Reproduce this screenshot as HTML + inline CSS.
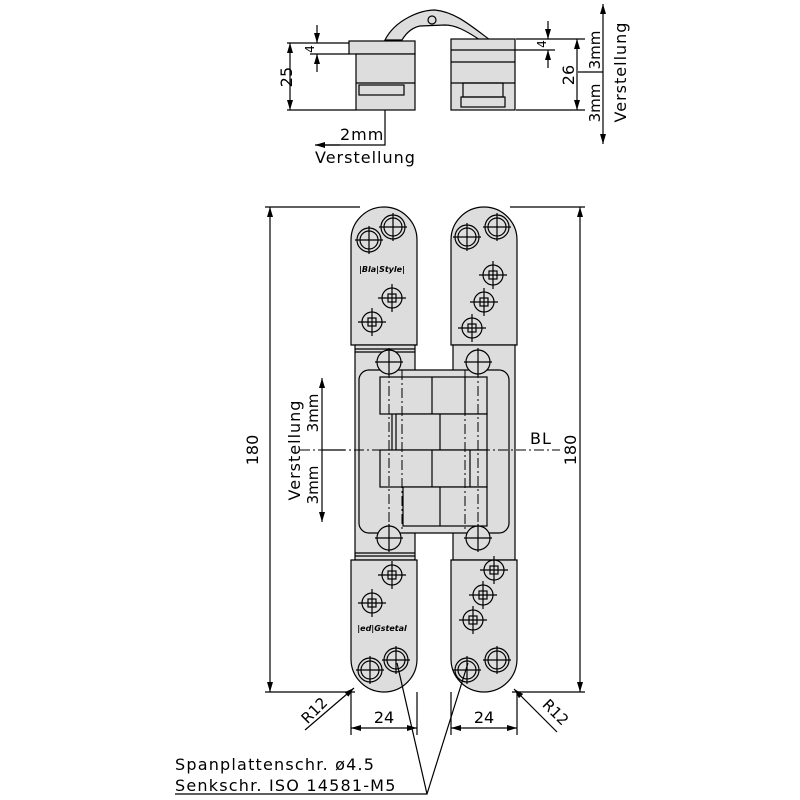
<!DOCTYPE html>
<html><head><meta charset="utf-8"><style>html,body{margin:0;padding:0;background:#fff}svg{display:block}text{font-family:"DejaVu Sans","Liberation Sans",sans-serif;fill:#000}</style></head><body>
<svg width="800" height="800" viewBox="0 0 800 800" xmlns="http://www.w3.org/2000/svg">
<defs>
<marker id="a" viewBox="0 0 10 6" refX="10" refY="3" markerWidth="10" markerHeight="6" orient="auto-start-reverse" markerUnits="userSpaceOnUse"><path d="M0,0L10,3L0,6z" fill="#000"/></marker>
<g id="s1" fill="none" stroke="#000" stroke-width="1.2"><circle r="12" fill="#ddd"/><circle r="9"/><path d="M-14,0H14M0,-14V14"/></g>
<g id="s2" fill="none" stroke="#000" stroke-width="1.2"><circle r="10"/><rect x="-4" y="-4" width="8" height="8"/><path d="M-14,0H14M0,-14V14"/></g>
<g id="h" fill="none" stroke="#000" stroke-width="1.2"><circle r="12" fill="#ddd"/><path d="M-14,0H14M0,-14V14"/></g>
</defs>
<g stroke="#000" stroke-width="1.2" fill="none">
<!-- TOP VIEW -->
<path d="M385,40 C395,20 420,10 435,10 C455,12 470,25 490,40 L480,40 C465,30 455,25 445,25 L420,26 C410,28 405,35 402,40 Z" fill="#ddd"/>
<circle cx="432" cy="20" r="4"/>
<rect x="349" y="41" width="66" height="13" fill="#ddd"/>
<rect x="356" y="54" width="59" height="56" fill="#ddd"/>
<line x1="356" y1="83" x2="415" y2="83"/>
<rect x="359" y="85" width="45" height="10"/>
<rect x="451" y="39" width="64" height="71" fill="#ddd"/>
<line x1="451" y1="50" x2="515" y2="50"/><line x1="451" y1="62" x2="515" y2="62"/>
<line x1="451" y1="83" x2="515" y2="83"/>
<rect x="463" y="83" width="40" height="14"/><rect x="461" y="97" width="44" height="10"/>
<path d="M287,43H349M287,110H356M516,39H585M516,110H585"/>
<line x1="290" y1="43" x2="290" y2="110" marker-start="url(#a)" marker-end="url(#a)"/>
<line x1="317" y1="25" x2="317" y2="43" marker-end="url(#a)"/><line x1="317" y1="72" x2="317" y2="54" marker-end="url(#a)"/>
<line x1="310" y1="54" x2="349" y2="54"/>
<line x1="548" y1="21" x2="548" y2="39" marker-end="url(#a)"/><line x1="548" y1="68" x2="548" y2="50" marker-end="url(#a)"/>
<line x1="515" y1="50" x2="555" y2="50"/>
<line x1="577" y1="39" x2="577" y2="110" marker-start="url(#a)" marker-end="url(#a)"/>
<line x1="603" y1="4" x2="603" y2="144" marker-start="url(#a)" marker-end="url(#a)"/>
<line x1="578" y1="72" x2="603" y2="72"/>
<path d="M385,110V145H316" /><line x1="340" y1="145" x2="315" y2="145" marker-end="url(#a)"/>
</g>
<text x="292" y="77" font-size="16" transform="rotate(-90 292 77)" text-anchor="middle">25</text>
<text x="314" y="49" font-size="12" transform="rotate(-90 314 49)" text-anchor="middle">4</text>
<text x="546" y="44" font-size="12" transform="rotate(-90 546 44)" text-anchor="middle">4</text>
<text x="574" y="75" font-size="16" transform="rotate(-90 574 75)" text-anchor="middle">26</text>
<text x="600" y="50" font-size="15" transform="rotate(-90 600 50)" text-anchor="middle">3mm</text>
<text x="600" y="103" font-size="15" transform="rotate(-90 600 103)" text-anchor="middle">3mm</text>
<text x="626" y="72" font-size="16" transform="rotate(-90 626 72)" text-anchor="middle" letter-spacing="1">Verstellung</text>
<text x="340" y="140" font-size="16" letter-spacing="1">2mm</text>
<text x="315" y="163" font-size="16" letter-spacing="1">Verstellung</text>

<!-- FRONT VIEW -->
<g stroke="#000" stroke-width="1.2">
<path d="M351,345V240A33,33 0 0 1 417,240V345Z" fill="#ddd"/>
<path d="M451,345V240A33,33 0 0 1 517,240V345Z" fill="#ddd"/>
<rect x="355" y="345" width="60" height="215" fill="#ddd"/>
<rect x="453" y="345" width="62" height="215" fill="#ddd"/>
<path d="M355,349H415M355,352H415M355,553H415M355,556H415" fill="none"/>
<rect x="359" y="370" width="150" height="163" rx="10" fill="#ddd"/>
<path d="M351,560V659A33,33 0 0 0 417,659V560Z" fill="#ddd"/>
<path d="M451,560V659A33,33 0 0 0 517,659V560Z" fill="#ddd"/>
<g fill="#ddd">
<rect x="380" y="377" width="107" height="37"/>
<rect x="396" y="414" width="91" height="36"/>
<rect x="380" y="450" width="107" height="37"/>
<rect x="403" y="487" width="84" height="39"/>
</g>
<path d="M432,377V414M440,414V450M432,450V487M440,487V526M392,414V450M465,377V414M470,450V487" fill="none"/>
</g>
<g stroke="#000" stroke-width="1" stroke-dasharray="10,3,2,3" fill="none">
<path d="M300,450H560M389,350V550M478,350V550M402,370V530M465,370V530"/>
</g>
<g>
<use href="#s1" x="369" y="240"/><use href="#s1" x="393" y="227"/>
<use href="#s2" x="392" y="298"/><use href="#s2" x="372" y="322"/>
<use href="#s1" x="467" y="237"/><use href="#s1" x="497" y="227"/>
<use href="#s2" x="493" y="275"/><use href="#s2" x="484" y="302"/><use href="#s2" x="472" y="328"/>
<use href="#h" x="389" y="362"/><use href="#h" x="478" y="362"/>
<use href="#h" x="389" y="538"/><use href="#h" x="478" y="538"/>
<use href="#s2" x="392" y="575"/><use href="#s2" x="372" y="603"/>
<use href="#s1" x="370" y="670"/><use href="#s1" x="396" y="660"/>
<use href="#s2" x="494" y="570"/><use href="#s2" x="483" y="595"/><use href="#s2" x="473" y="620"/>
<use href="#s1" x="467" y="670"/><use href="#s1" x="497" y="660"/>
</g>
<text x="382" y="272" font-size="8" font-weight="bold" font-style="italic" text-anchor="middle">|Bla|Style|</text>
<text x="382" y="631" font-size="8" font-weight="bold" font-style="italic" text-anchor="middle">|ed|Gstetal</text>

<g stroke="#000" stroke-width="1.2" fill="none">
<path d="M265,207H360M265,692H355M510,207H585M512,692H585"/>
<line x1="270" y1="207" x2="270" y2="692" marker-start="url(#a)" marker-end="url(#a)"/>
<line x1="580" y1="207" x2="580" y2="692" marker-start="url(#a)" marker-end="url(#a)"/>
<line x1="322" y1="378" x2="322" y2="522" marker-start="url(#a)" marker-end="url(#a)"/>
<line x1="322" y1="450" x2="345" y2="450"/>
<path d="M351,692V735M417,692V735M451,692V735M517,692V735"/>
<line x1="351" y1="728" x2="417" y2="728" marker-start="url(#a)" marker-end="url(#a)"/>
<line x1="451" y1="728" x2="517" y2="728" marker-start="url(#a)" marker-end="url(#a)"/>
<line x1="305" y1="730" x2="354" y2="688" marker-end="url(#a)"/>
<line x1="557" y1="732" x2="514" y2="689" marker-end="url(#a)"/>
<path d="M175,794H427L397,663M427,794L468,663"/>
</g>
<text x="258" y="450" font-size="16" transform="rotate(-90 258 450)" text-anchor="middle">180</text>
<text x="576" y="450" font-size="16" transform="rotate(-90 576 450)" text-anchor="middle">180</text>
<text x="530" y="444" font-size="16" letter-spacing="1">BL</text>
<text x="300" y="450" font-size="16" transform="rotate(-90 300 450)" text-anchor="middle" letter-spacing="1">Verstellung</text>
<text x="318" y="413" font-size="15" transform="rotate(-90 318 413)" text-anchor="middle">3mm</text>
<text x="318" y="485" font-size="15" transform="rotate(-90 318 485)" text-anchor="middle">3mm</text>
<text x="384" y="723" font-size="16" text-anchor="middle">24</text>
<text x="484" y="723" font-size="16" text-anchor="middle">24</text>
<text x="318" y="714" font-size="15" transform="rotate(-45 318 714)" text-anchor="middle">R12</text>
<text x="552" y="716" font-size="15" transform="rotate(45 552 716)" text-anchor="middle">R12</text>
<text x="175" y="770" font-size="16" letter-spacing="1.2">Spanplattenschr. ø4.5</text>
<text x="175" y="791" font-size="16" letter-spacing="1.2">Senkschr. ISO 14581-M5</text>
</svg>
</body></html>
